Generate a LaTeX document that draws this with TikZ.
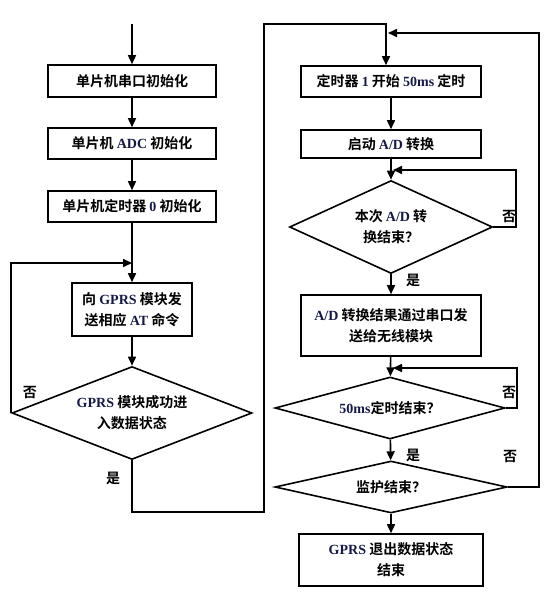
\documentclass[tikz,border=0pt]{standalone}
\usepackage{fontspec}
\setmainfont{Liberation Serif}
\newfontfamily\cjk{Noto Sans CJK SC}[BoldFont={Noto Sans CJK SC Bold}]
\usetikzlibrary{shapes.geometric,arrows.meta}
\definecolor{latc}{RGB}{20,25,70}
\newcommand\lt[1]{{\rmfamily\bfseries\color{latc}#1}}
\newcommand\cjkf{\cjk\bfseries\fontsize{14}{21}\selectfont}
\begin{document}
\begin{tikzpicture}[x=1pt,y=-1pt,line width=1.6pt,
  box/.style={draw,rectangle,inner sep=0pt,align=center,font=\cjkf},
  dia/.style={draw,diamond,inner sep=0pt,align=center,font=\cjkf},
  arr/.style={-{Triangle[length=9pt,width=8pt]}},
  lab/.style={font=\cjkf,inner sep=0pt}]
\useasboundingbox (0,0) rectangle (557,595);
% left column
\coordinate (s) at (132,24);
\node[box,minimum width=168pt,minimum height=32pt] (b1) at (132,81) {单片机串口初始化};
\node[box,minimum width=168pt,minimum height=31pt] (b2) at (132,143.5) {单片机 \lt{ADC} 初始化};
\node[box,minimum width=168pt,minimum height=31pt] (b3) at (132,206.5) {单片机定时器 \lt{0} 初始化};
\coordinate (j1) at (132,263);
\node[box,minimum width=120pt,minimum height=53pt] (b4) at (132,309.5) {向 \lt{GPRS} 模块发\\送相应 \lt{AT} 命令};
\node[dia,minimum width=240pt,minimum height=93pt,shape aspect=2.58] (d1) at (132,413) {\lt{GPRS} 模块成功进\\入数据状态};
\draw[arr] (s) -- (b1);
\draw[arr] (b1) -- (b2);
\draw[arr] (b2) -- (b3);
\draw[arr] (b3) -- (b4);
\draw[arr] (b4) -- (d1);
\draw[arr] (d1.west) |- (j1);
\coordinate (c1) at (132,512);
\coordinate (c2) at (264,512);
\coordinate (c3) at (264,24);
\coordinate (c4) at (386,24);
% right column
\node[box,minimum width=180pt,minimum height=31pt] (r1) at (391,81.5) {定时器 \lt{1} 开始 \lt{50ms} 定时};
\node[box,minimum width=180pt,minimum height=28pt] (r2) at (391,144) {启动 \lt{A/D} 转换};
\node[dia,minimum width=203pt,minimum height=93pt,shape aspect=2.18] (d2) at (391,227) {本次 \lt{A/D} 转\\换结束？};
\node[box,minimum width=180pt,minimum height=61pt] (r3) at (391,325.5) {\lt{A/D} 转换结果通过串口发\\送给无线模块};
\node[dia,minimum width=230pt,minimum height=62pt,shape aspect=3.7] (d3) at (390,408) {\lt{50ms}定时结束？};
\node[dia,minimum width=232pt,minimum height=52pt,shape aspect=4.46] (d4) at (391,487) {监护结束？};
\node[box,minimum width=184pt,minimum height=52pt] (r4) at (391,560) {\lt{GPRS} 退出数据状态\\结束};
\draw[arr] (d1.south) -- (c1) -- (c2) -- (c3) -- (c4) -- (c4 |- r1.north);
\draw[arr] (r1) -- (r2);
\draw[arr] (r2) -- (d2);
\draw[arr] (d2) -- (r3);
\draw[arr] (r3) -- (d3);
\draw[arr] (d3) -- (d4);
\draw[arr] (d4) -- (r4);
% loops
\coordinate (k1) at (393,170);
\coordinate (e1) at (516,227);
\draw[arr] (d2.east) -- (e1) |- (k1);
\coordinate (k2) at (393,368);
\coordinate (e2) at (517,408);
\draw[arr] (d3.east) -- (e2) |- (k2);
\coordinate (k3) at (388,33);
\coordinate (e3) at (539,487);
\draw[arr] (d4.east) -- (e3) |- (k3);
% labels
\node[lab] (n1) at (30,393) {否};
\node[lab] (y1) at (113,478) {是};
\node[lab] (n2) at (509,217) {否};
\node[lab] (y2) at (413,280) {是};
\node[lab] (n3) at (509,393) {否};
\node[lab] (y3) at (413,455) {是};
\node[lab] (n4) at (510,457) {否};
\end{tikzpicture}
\end{document}
